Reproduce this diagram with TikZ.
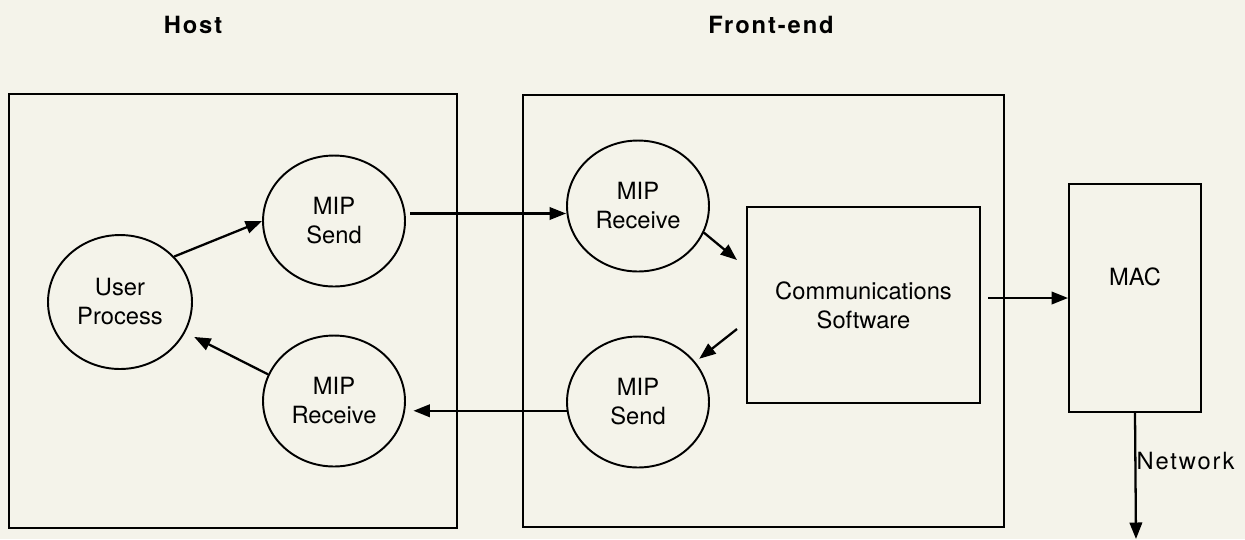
\documentclass[tikz,border=0pt]{standalone}
\usepackage{fontspec}
\setmainfont{TeX Gyre Heros}
\newfontfamily\spacedfont[LetterSpace=8]{TeX Gyre Heros}
\usetikzlibrary{shapes.geometric,arrows.meta}
\definecolor{paper}{RGB}{244,243,234}

\begin{document}
\begin{tikzpicture}[x=0.02cm, y=-0.02cm,
	every node/.style={font=\fontsize{13.5}{16.5}\selectfont},
	bubble/.style={draw, ellipse, line width=1.1pt, inner sep=0pt, minimum width=2.84cm, minimum height=2.62cm, align=center},
	box/.style={draw, rectangle, line width=1.1pt, inner sep=0pt, align=center},
	flow/.style={-{Triangle[length=3.3mm,width=2.5mm]}, line width=1.3pt}]
	
	\fill[paper] (0,0) rectangle (1245,539);
	\useasboundingbox (0,0) rectangle (1245,539);
	
	% the two machines
	\node[box, minimum width=8.96cm, minimum height=8.68cm] (host) at (233,311) {};
	\node[box, minimum width=9.62cm, minimum height=8.64cm] (fe) at (763.5,311) {};
	\node (hosttitle) at (193,25) {\spacedfont\bfseries Host};
	\node (fetitle) at (771,25) {\spacedfont\bfseries Front-end};
	
	% host side
	\node[bubble, minimum width=2.88cm, minimum height=2.68cm] (user) at (120,302) {User\\Process};
	\node[bubble] (hsend) at (334,221) {MIP\\Send};
	\node[bubble] (hrecv) at (334,401) {MIP\\Receive};
	
	% front-end side
	\node[bubble] (fercv) at (638,206) {MIP\\Receive};
	\node[bubble] (fesend) at (638,402) {MIP\\Send};
	\node[box, minimum width=4.66cm, minimum height=3.92cm] (comm) at (863.5,305) {Communications\\Software};
	\node[box, minimum width=2.64cm, minimum height=4.56cm, label={[yshift=0.42cm]center:MAC}] (mac) at (1135,298) {};
	
	\coordinate (inA) at (737,260);
	\coordinate (outA) at (737,329);
	\coordinate (net) at (1136,539);
	
	\draw[flow] (user.40) -- (hsend.west);
	\draw[flow, shorten >=2mm] (hrecv.158) -- (user.-25);
	\draw[flow, shorten <=1mm] (hsend.6) -- (hsend.6 -| fercv.west);
	\draw[flow, shorten >=1.5mm] (fesend.187) -- (fesend.187 -| hrecv.east);
	\draw[flow] (fercv.-22) -- (inA);
	\draw[flow, shorten >=1mm] (outA) -- (fesend.35);
	\draw[flow, shorten <=1.5mm] (comm.east |- mac.west) -- (mac.west);
	\draw[flow] (mac.south) -- (net) node[pos=0.38, right, inner sep=0pt] (netlbl) {\spacedfont Network};
	
\end{tikzpicture}
\end{document}
